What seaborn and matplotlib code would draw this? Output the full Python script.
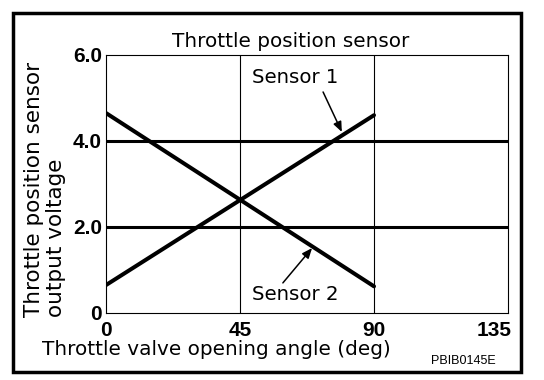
import matplotlib
matplotlib.use("Agg")
import matplotlib.pyplot as plt
import matplotlib.patches as patches
import matplotlib.transforms as mtransforms
import seaborn as sns
import pandas as pd

# ---- data ----
angle = [0, 90]
sensor1 = [0.65, 4.6]
sensor2 = [4.65, 0.62]
ref_levels = [2.0, 4.0]
grid_x = [45, 90]
x_ticks = [0, 45, 90, 135]
x_ticklabels = ["0", "45", "90", "135"]
y_ticks = [0, 2, 4, 6]
y_ticklabels = ["0", "2.0", "4.0", "6.0"]

df = pd.DataFrame({
    "angle": angle * 2,
    "voltage": sensor1 + sensor2,
    "sensor": ["Sensor 1"] * 2 + ["Sensor 2"] * 2,
})

sns.set_style("white")
plt.rcParams["font.family"] = ["DejaVu Sans"]
plt.rcParams["text.color"] = "black"
plt.rcParams["axes.labelcolor"] = "black"
plt.rcParams["xtick.color"] = "black"
plt.rcParams["ytick.color"] = "black"

W, H = 544, 380
fig = plt.figure(figsize=(W / 100, H / 100), dpi=100)
ax = fig.add_axes([106 / W, (H - 313) / H, 402 / W, 258 / H])

for gx in grid_x:
    ax.axvline(gx, color="black", lw=0.8, zorder=1)
for lv in ref_levels:
    ax.axhline(lv, color="black", lw=2.2, zorder=2)

sns.lineplot(data=df, x="angle", y="voltage", units="sensor", estimator=None,
             color="black", lw=2.9, ax=ax, legend=False, zorder=3)

ax.set_xlim(0, 135)
ax.set_ylim(0, 6)
ax.set_xticks(x_ticks)
ax.set_xticklabels(x_ticklabels, fontfamily="Liberation Sans", fontweight="bold", fontsize=15)
ax.set_yticks(y_ticks)
ax.set_yticklabels(y_ticklabels, fontfamily="Liberation Sans", fontweight="bold", fontsize=15)
ax.tick_params(axis="both", length=0)
ax.tick_params(axis="x", pad=6)
ax.tick_params(axis="y", pad=3)
# last x tick label sits just left of its tick
last = ax.get_xticklabels()[-1]
last.set_horizontalalignment("right")
last.set_transform(last.get_transform() + mtransforms.ScaledTranslation(4 / 100, 0, fig.dpi_scale_trans))
ax.set_xlabel("")
ax.set_ylabel("")
for s in ax.spines.values():
    s.set_visible(True)
    s.set_color("black")
    s.set_linewidth(0.8)

# annotations
ax.text(63.5, 5.47, "Sensor 1", ha="center", va="center", fontsize=14.2)
ax.text(63.5, 0.44, "Sensor 2", ha="center", va="center", fontsize=14.2)
arrow = dict(arrowstyle="-|>,head_length=0.6,head_width=0.25", color="black", lw=1.1,
             shrinkA=0, shrinkB=0)
ax.annotate("", xy=(79.2, 4.21), xytext=(72.9, 5.14), arrowprops=arrow)
ax.annotate("", xy=(69.2, 1.51), xytext=(59.4, 0.70), arrowprops=arrow)

# texts
fig.text(291 / W, (H - 47) / H, "Throttle position sensor", ha="center", va="baseline",
         fontsize=14.4)
fig.text(41.5 / W, (H - 355) / H, "Throttle valve opening angle (deg)", ha="left",
         va="baseline", fontsize=14.4)
fig.text(45 / W, (H - 317) / H, "Throttle position sensor\noutput voltage", rotation=90,
         ha="center", va="bottom", multialignment="left", fontsize=15.5, linespacing=1.15)
fig.text(463 / W, (H - 361) / H, "PBIB0145E", ha="center", va="center",
         fontfamily="Liberation Sans", fontsize=9)

# outer frame
fig.patches.append(patches.Rectangle((12.5 / W, (H - 371.5) / H), 508 / W, 359 / H,
                                     transform=fig.transFigure, fill=False,
                                     edgecolor="black", lw=2.5))

fig.savefig("out.png", dpi=100)
